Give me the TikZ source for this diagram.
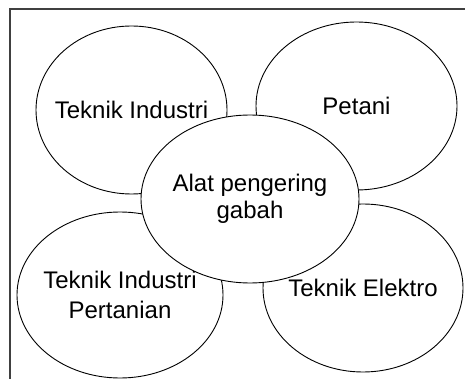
\documentclass[tikz,border=0pt]{standalone}
\usepackage{fontspec}
\setmainfont{Liberation Sans}
\usetikzlibrary{shapes.geometric}
\begin{document}
\begin{tikzpicture}[x=1pt,y=-1pt,
  bubble/.style={ellipse, draw=black, line width=0.9pt, inner sep=0pt},
  bubbletext/.style={inner sep=0pt, align=center, font=\fontsize{24}{27}\selectfont},
  frameline/.style={draw=black!75, line width=1.3pt}]
\useasboundingbox (0,0) rectangle (465,379);
\coordinate (ftl) at (10,9);
\coordinate (fbl) at (10,380);
\coordinate (ftr) at (466,9);
\draw[frameline] (fbl) -- (ftl) -- (ftr);
\node[bubble, minimum width=191pt, minimum height=168pt] (ti) at (131.5,110) {};
\node[bubbletext] (tit) at (ti.center) {Teknik Industri};
\node[bubble, minimum width=201pt, minimum height=168pt] (pt) at (356.5,106) {};
\node[bubbletext] (ptt) at (pt.center) {Petani};
\node[bubble, minimum width=206pt, minimum height=166pt] (tip) at (120,295) {};
\node[bubbletext, font=\fontsize{24}{30}\selectfont] (tipt) at (tip.center) {Teknik Industri\\Pertanian};
\node[bubble, minimum width=200pt, minimum height=168pt] (te) at (363,288) {};
\node[bubbletext] (tet) at (te.center) {Teknik Elektro};
\node[bubble, fill=white, minimum width=218pt, minimum height=168pt] (alat) at (250,199) {};
\node[bubbletext] (alatt) at (alat.center) {Alat pengering\\gabah};
\end{tikzpicture}
\end{document}
